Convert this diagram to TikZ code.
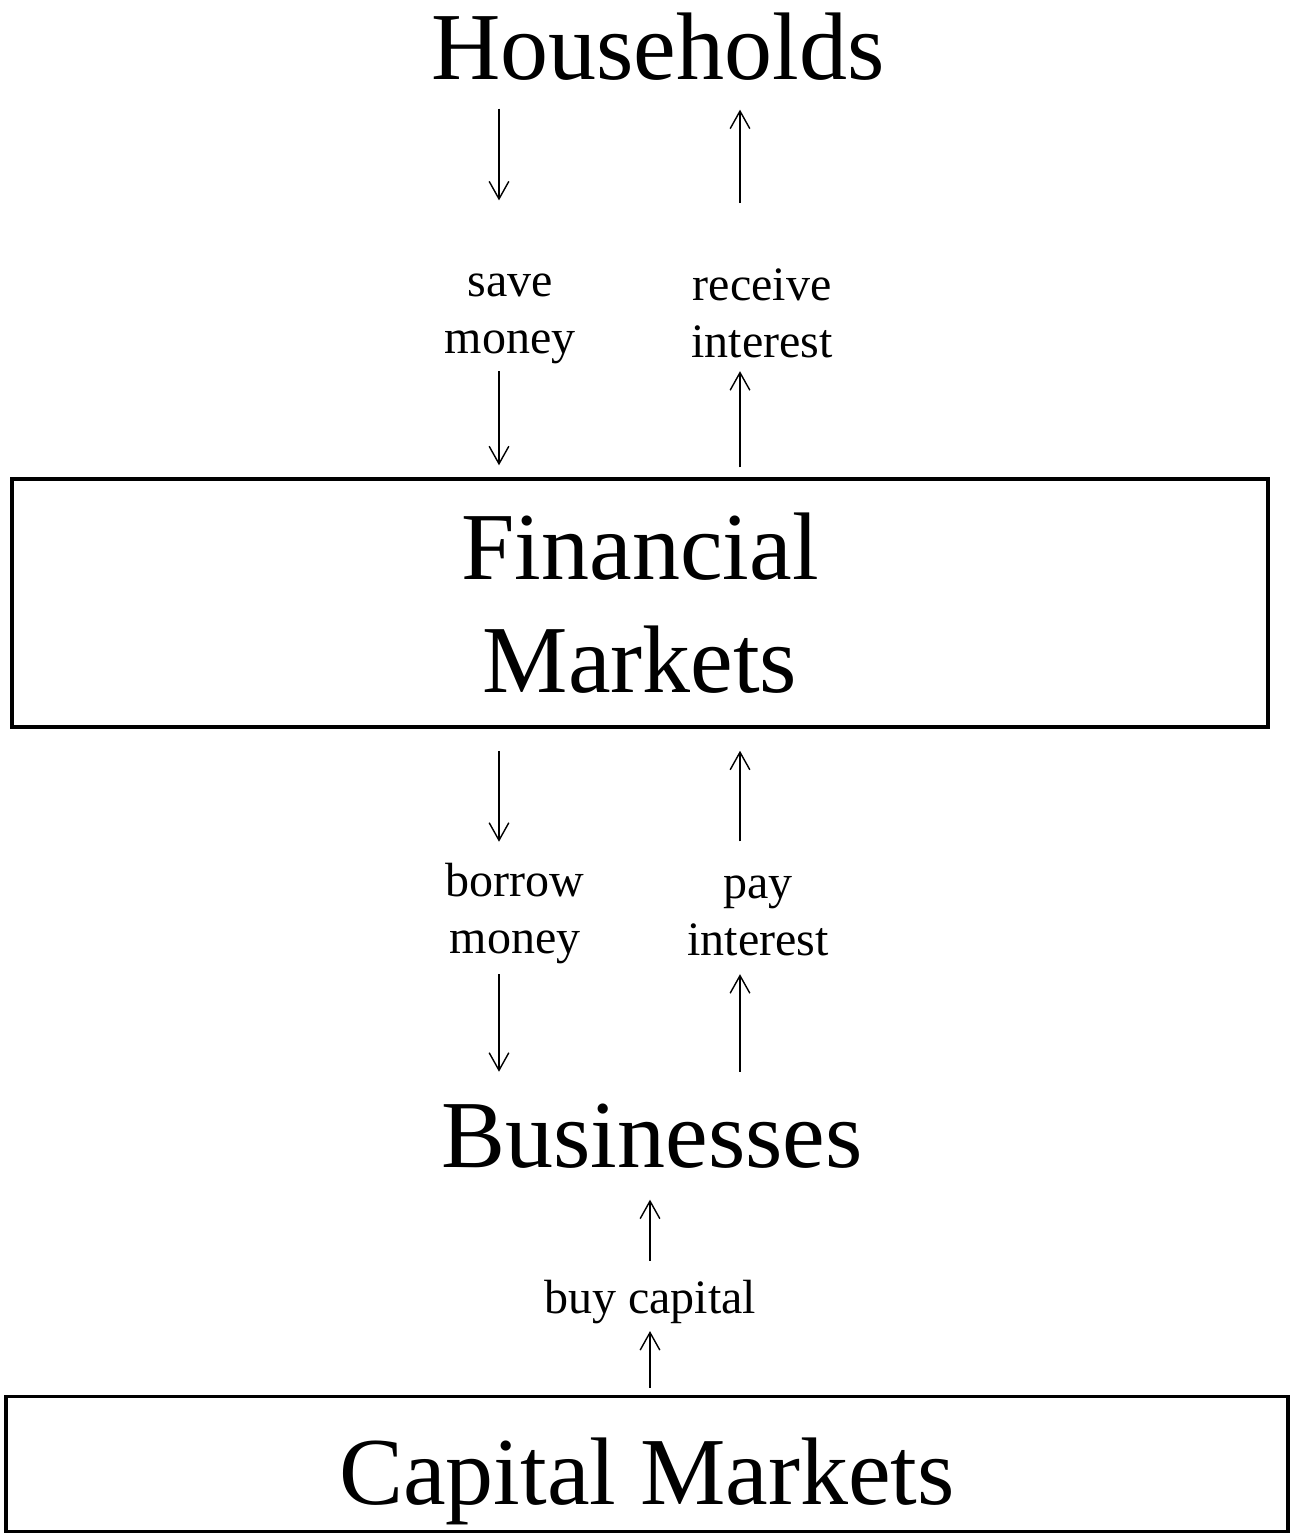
\documentclass[tikz,border=0pt]{standalone}
\usepackage{fontspec}
\setmainfont{Liberation Serif}
\usetikzlibrary{arrows.meta,positioning}
\tikzset{
    -{Straight Barb[length=5pt,width=5.6pt]},line width=0.75pt,
    big/.style ={inner sep=0pt, font=\fontsize{27.3}{32}\selectfont},
    market/.style ={big, rectangle, draw, line width=0.95pt, align=center},
    lbl/.style = {inner sep=0pt, align=center, font=\fontsize{13.65}{16}\selectfont}
}
\begin{document}
\begin{tikzpicture}[x=0.01cm,y=-0.01cm]
    \useasboundingbox (0,0) rectangle (1290,1536);
    \coordinate (lx) at (499,0);
    \coordinate (rx) at (740,0);

    \node[big, anchor=base] (hh) at (658,79) {Households};
     \node[lbl, anchor=base] (save) at (510,353) {save\\money};
     \node[lbl, anchor=base] (recv) at (762,357) {receive\\interest};
       \node[market, minimum width=12.55cm, minimum height=2.48cm] (fm) at (640,603) {Financial\\Markets};
      \node[lbl, anchor=base] (borrow) at (515,953) {borrow\\money};
      \node[lbl, anchor=base] (pay) at (758,955) {pay\\interest};
       \node[big, anchor=base] (biz) at (652,1167) {Businesses};
      \node[lbl, anchor=base] (buy) at (650,1313) {buy capital};
     \node[market, minimum width=12.81cm, minimum height=1.35cm, text height=0.81cm, text depth=0pt] (cap) at (647,1464) {Capital Markets};

      \path (hh.south -| lx) edge[shorten <=0.28cm, shorten >=0.73cm] (save.north -| lx);
      \path (recv.north -| rx) edge[shorten <=0.65cm, shorten >=0.29cm] (hh.south -| rx);
       \path (save.south -| lx) edge[shorten <=0.07cm, shorten >=0.12cm] (fm.north -| lx);
       \path (fm.north -| rx) edge[shorten <=0.10cm, shorten >=0.13cm] (recv.south -| rx);
        \path (fm.south -| lx) edge[shorten <=0.22cm, shorten >=0.21cm] (borrow.north -| lx);
        \path (pay.north -| rx) edge[shorten <=0.34cm, shorten >=0.22cm] (fm.south -| rx);
       \path (borrow.south -| lx) edge[shorten <=0.10cm, shorten >=0.31cm] (biz.north -| lx);
       \path (biz.north -| rx) edge[shorten <=0.31cm, shorten >=0.18cm] (pay.south -| rx);
      \path (buy.north) edge[shorten <=0.18cm, shorten >=0.31cm] (biz.south -| buy.north);
      \path (cap.north -| buy.south) edge[shorten <=0.07cm, shorten >=0.07cm] (buy.south);

\end{tikzpicture}
\end{document}
